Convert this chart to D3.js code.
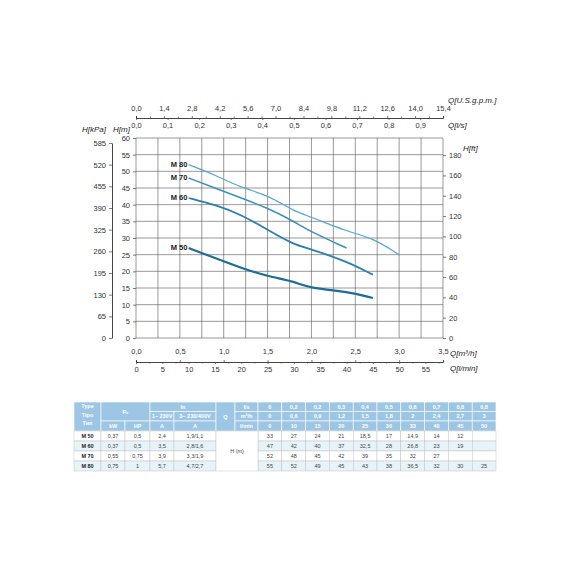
<!DOCTYPE html>
<html><head><meta charset="utf-8">
<script src="https://cdn.jsdelivr.net/npm/d3@7"></script>
<style>body{margin:0;background:#fff}text{font-family:"Liberation Sans",Arial,sans-serif}</style>
</head><body><svg id="c" width="570" height="570"></svg>
<script>
// curve data, from the table (Q in l/min, H in m)
const flowLmin = [10, 15, 20, 25, 30, 33, 40, 45, 50];
const models = ["M 50", "M 60", "M 70", "M 80"];
const headM50 = [27, 24, 21, 18.5, 17, 14.9, 14, 12];
const headM60 = [42, 40, 37, 32.5, 28, 26.8, 23, 19];
const headM70 = [48, 45, 42, 39, 35, 32, 27];
const headM80 = [52, 49, 45, 43, 38, 36.5, 32, 30, 25];
const curveColors = ["#1b6f96", "#2a7fb0", "#3d8fc0", "#5aa5cf"];
const curveWidths = [2.2, 1.8, 1.5, 1.2];

// table rows
const tableRows = [
  ["M 50", "0,37", "0,5", "2,4", "1,9/1,1", "33", "27", "24", "21", "18,5", "17", "14,9", "14", "12", ""],
  ["M 60", "0,37", "0,5", "3,5", "2,8/1,6", "47", "42", "40", "37", "32,5", "28", "26,8", "23", "19", ""],
  ["M 70", "0,55", "0,75", "3,9", "3,3/1,9", "52", "48", "45", "42", "39", "35", "32", "27", "", ""],
  ["M 80", "0,75", "1", "5,7", "4,7/2,7", "55", "52", "49", "45", "43", "38", "36,5", "32", "30", "25"]
];
const qLs = ["0", "0,2", "0,2", "0,3", "0,4", "0,5", "0,6", "0,7", "0,8", "0,8"];
const qM3h = ["0", "0,6", "0,9", "1,2", "1,5", "1,8", "2", "2,4", "2,7", "3"];
const qLmin = ["0", "10", "15", "20", "25", "30", "33", "40", "45", "50"];

const svg = d3.select("#c");
const x0 = 136, x1 = 443, yTop = 138, yBot = 338;
const x = d3.scaleLinear().domain([0, 3.5]).range([x0, x1]);
const y = d3.scaleLinear().domain([0, 60]).range([yBot, yTop]);
const fmt = d => d3.format(".1f")(d).replace(".", ",");
const g = svg.append("g");

// grid
d3.range(0, 3.51, 0.25).forEach(v => g.append("line").attr("x1", x(v)).attr("x2", x(v)).attr("y1", yTop).attr("y2", yBot).attr("stroke", "#555").attr("stroke-width", 0.6));
d3.range(0, 61, 5).forEach(v => g.append("line").attr("x1", x0).attr("x2", x1).attr("y1", y(v)).attr("y2", y(v)).attr("stroke", "#555").attr("stroke-width", 0.6));

function styleAxis(sel) {
  sel.selectAll("path,line").attr("stroke", "#444").attr("stroke-width", 0.7);
  sel.selectAll("text").attr("fill", "#333").attr("font-size", 7.5);
}
// left H[m]
g.append("g").attr("transform", `translate(${x0},0)`).call(d3.axisLeft(y).tickValues(d3.range(0, 61, 5)).tickSize(3).tickFormat(d3.format("d"))).call(styleAxis).select(".domain").remove();
// kPa
const yk = d3.scaleLinear().domain([0, 585]).range([yBot, y(58.5)]);
g.append("g").attr("transform", "translate(112,0)").call(d3.axisLeft(yk).tickValues(d3.range(0, 586, 65)).tickSize(3).tickSizeOuter(0)).call(styleAxis);
// right ft
const yf = d3.scaleLinear().domain([0, 60 * 3.2808]).range([yBot, yTop]);
g.append("g").attr("transform", `translate(${x1},0)`).call(d3.axisRight(yf).tickValues(d3.range(0, 181, 20)).tickSize(3)).call(styleAxis).select(".domain").remove();

// top axes
const xg = d3.scaleLinear().domain([0, 15.4]).range([x0, x1]);
const xl = d3.scaleLinear().domain([0, 3.5 / 3.6]).range([x0, x1]);
const topA = g.append("g").attr("transform", "translate(0,118)");
topA.call(d3.axisTop(xg).tickValues(d3.range(0, 15.41, 1.4)).tickSize(2).tickFormat(fmt)).call(styleAxis);
topA.selectAll(".tick text").attr("dy", -2);
g.append("g").attr("transform", "translate(0,118)").call(d3.axisBottom(xl).tickValues(d3.range(0, 0.91, 0.1)).tickSize(2).tickFormat(fmt)).call(styleAxis).select(".domain").remove();
g.append("g").attr("transform", "translate(0,118)").call(d3.axisTop(xg).tickValues(d3.range(0.7, 15.4, 1.4)).tickSize(1.5).tickFormat("")).call(styleAxis).select(".domain").remove();

// bottom axes
const xm = d3.scaleLinear().domain([0, 3.5 * 1000 / 60]).range([x0, x1]);
const bA = g.append("g").attr("transform", "translate(0,362)");
bA.call(d3.axisTop(x).tickValues(d3.range(0, 3.51, 0.5)).tickSize(2).tickFormat(fmt)).call(styleAxis);
bA.selectAll(".tick text").attr("dy", -3);
g.append("g").attr("transform", "translate(0,362)").call(d3.axisBottom(xm).tickValues(d3.range(0, 56, 5)).tickSize(2).tickFormat(d3.format("d"))).call(styleAxis).select(".domain").remove();
g.append("g").attr("transform", "translate(0,362)").call(d3.axisBottom(xm).tickValues(d3.range(2.5, 58, 5)).tickSize(1.5).tickFormat("")).call(styleAxis).select(".domain").remove();
d3.selectAll(".domain").attr("stroke-width", 1);

// axis titles
const lab = (t, xx, yy, a) => svg.append("text").text(t).attr("x", xx).attr("y", yy).attr("font-size", 8).attr("font-style", "italic").attr("fill", "#222").attr("text-anchor", a || "start");
lab("Q[U.S.g.p.m.]", 448, 103); lab("Q[l/s]", 448, 128); lab("H[kPa]", 82, 132); lab("H[m]", 113, 132);
lab("H[ft]", 463, 151); lab("Q[m³/h]", 450, 356); lab("Q[l/min]", 450, 371);

// curves (smoothed through the table values)
const heads = [headM50, headM60, headM70, headM80];
const line = d3.line().x(d => xm(d[0])).y(d => y(d[1])).curve(d3.curveBasis);
heads.forEach((h, i) => {
  const pts = h.map((v, j) => [flowLmin[j], v]);
  svg.append("path").attr("d", line(pts)).attr("fill", "none").attr("stroke", curveColors[i]).attr("stroke-width", curveWidths[i]);
  svg.append("text").text(models[i]).attr("x", xm(flowLmin[0]) - 18).attr("y", y(h[0]) + 2).attr("font-size", 7.5).attr("font-weight", "bold").attr("fill", "#222");
});

// table
const tcols = [74, 101, 125, 150, 174, 216, 235, 258];
for (let k = 1; k <= 10; k++) tcols.push(258 + k * 23.8);
const rowY = [402, 411.5, 421, 431, 441, 451, 461, 471];
const head = "#9dc6e4", stripe = "#e6f3f8";
const T = svg.append("g").attr("font-size", 5.5);
const cell = (c0, c1, r0, r1, txt, fill, col) => {
  T.append("rect").attr("x", tcols[c0]).attr("y", rowY[r0]).attr("width", tcols[c1] - tcols[c0]).attr("height", rowY[r1] - rowY[r0]).attr("fill", fill).attr("stroke", "#fff").attr("stroke-width", 0.6);
  T.append("text").text(txt).attr("x", (tcols[c0] + tcols[c1]) / 2).attr("y", (rowY[r0] + rowY[r1]) / 2 + 2).attr("text-anchor", "middle").attr("fill", col || "#fff").attr("font-weight", col ? "normal" : "bold");
};
cell(0, 1, 0, 3, "", head);
["Type", "Tipo", "Тип"].forEach((t, i) => T.append("text").text(t).attr("x", 87.5).attr("y", 408 + i * 8.5).attr("text-anchor", "middle").attr("fill", "#fff").attr("font-weight", "bold"));
cell(1, 3, 0, 2, "P₂", head); cell(1, 2, 2, 3, "kW", head); cell(2, 3, 2, 3, "HP", head);
cell(3, 5, 0, 1, "In", head); cell(3, 4, 1, 2, "1~ 230V", head); cell(4, 5, 1, 2, "3~ 230/400V", head);
cell(3, 4, 2, 3, "A", head); cell(4, 5, 2, 3, "A", head); cell(5, 6, 0, 3, "Q", head);
cell(6, 7, 0, 1, "l/s", head); cell(6, 7, 1, 2, "m³/h", head); cell(6, 7, 2, 3, "l/min", head);
[qLs, qM3h, qLmin].forEach((arr, r) => arr.forEach((v, k) => cell(7 + k, 8 + k, r, r + 1, v, head)));
tableRows.forEach((row, r) => {
  const f = r % 2 ? stripe : "#fff";
  row.slice(0, 5).forEach((v, c) => cell(c, c + 1, 3 + r, 4 + r, v, f, "#444"));
  row.slice(5).forEach((v, k) => cell(7 + k, 8 + k, 3 + r, 4 + r, v, f, "#444"));
  T.selectAll("text").filter(function () { return d3.select(this).text() === row[0]; }).attr("font-weight", "bold").attr("fill", "#222");
});
cell(5, 7, 3, 7, "H (m)", "#fff", "#444");
T.selectAll("rect").filter(function () { return d3.select(this).attr("fill") !== head; }).attr("stroke", "#bbb").attr("stroke-width", 0.4);
</script></body></html>
